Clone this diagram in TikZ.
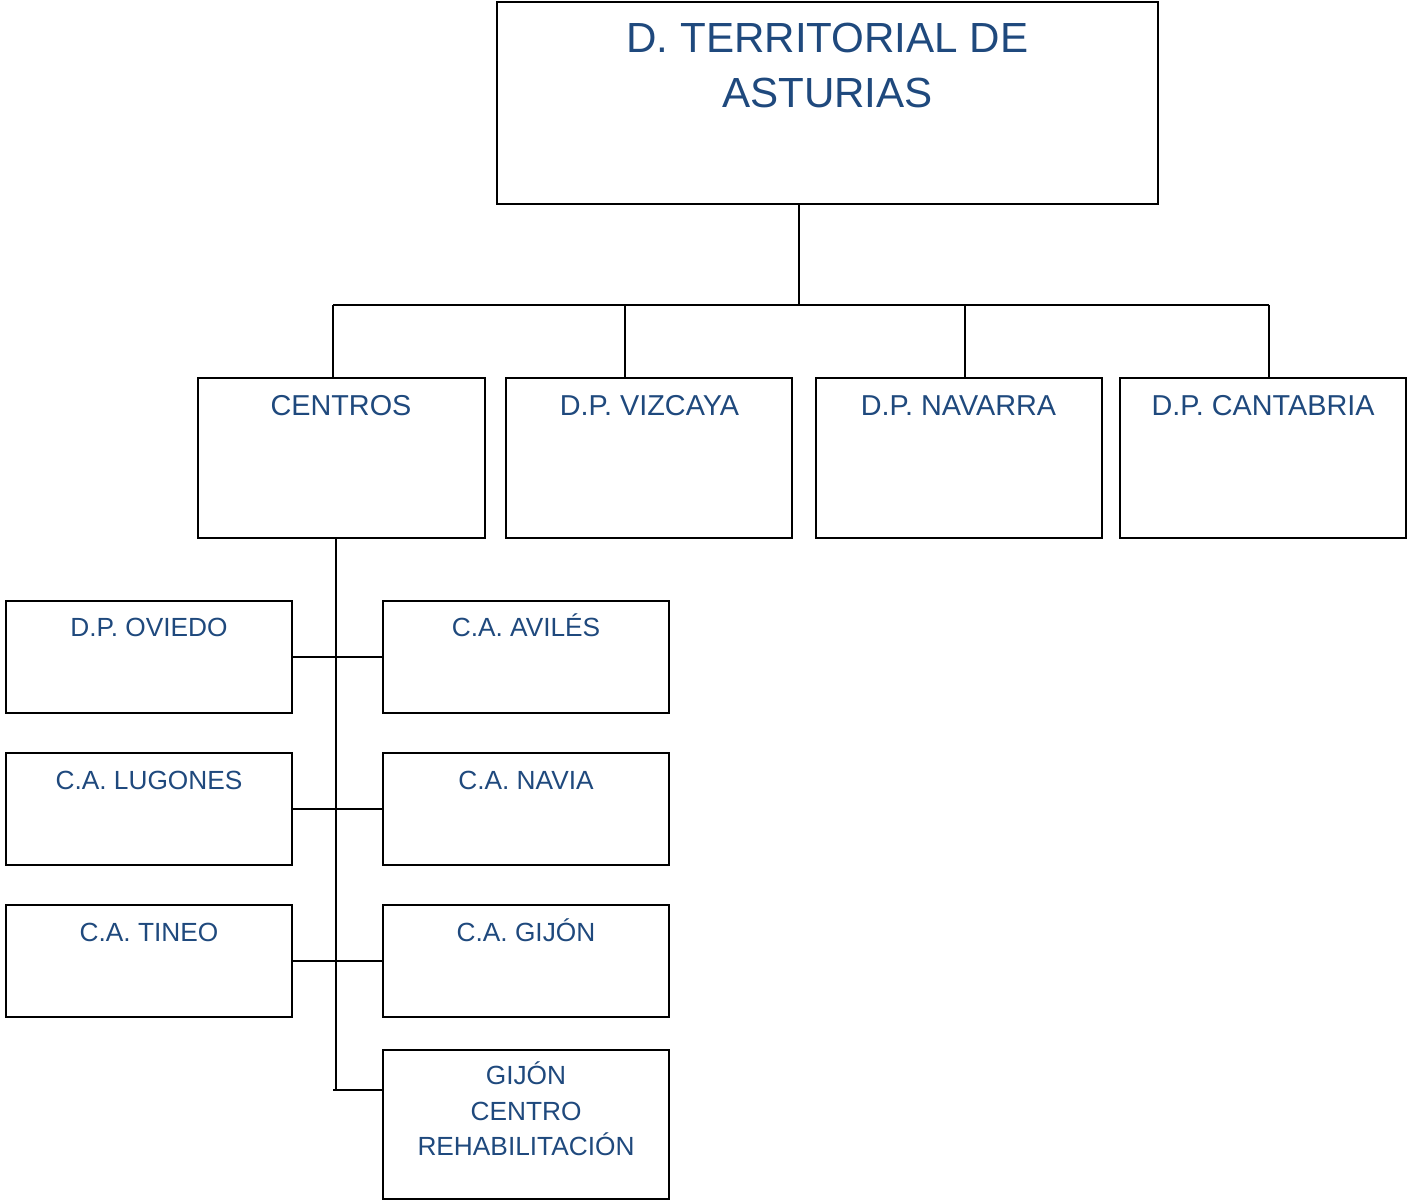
\documentclass[tikz,border=0pt]{standalone}
\usepackage{fontspec}
\setmainfont{Liberation Sans}
\usetikzlibrary{positioning}
\definecolor{orgblue}{RGB}{31,73,125}

\begin{document}
\begin{tikzpicture}[x=0.75pt,y=-0.75pt,
		box/.style={draw, rectangle, line width=1.4pt, inner sep=0pt},
		topbox/.style={box, minimum width=495.75pt, minimum height=151.5pt},
		rowbox/.style={box, minimum width=215pt, minimum height=120pt},
		unitbox/.style={box, minimum width=214.5pt, minimum height=83.5pt},
		lbl/.style={text=orgblue, anchor=base, inner sep=0pt, align=center},
		link/.style={line width=1.4pt}]
				\useasboundingbox (0,0) rectangle (1407,1201);
				
				% boxes
				\node[topbox] (dta) at (827.5,103) {};
				\node[rowbox] (centros) at (341.5,458) {};
				\node[rowbox] (vizcaya) at (649,458) {};
				\node[rowbox] (navarra) at (959,458) {};
				\node[rowbox] (cantabria) at (1263,458) {};
				\node[unitbox] (oviedo) at (149,657) {};
				\node[unitbox] (lugones) at (149,809) {};
				\node[unitbox] (tineo) at (149,961) {};
				\node[unitbox] (aviles) at (526,657) {};
				\node[unitbox] (navia) at (526,809) {};
				\node[unitbox] (gijon) at (526,961) {};
				\node[box, minimum width=214.5pt, minimum height=111.75pt] (rehab) at (526,1124.5) {};
				
				% texts (base = last line)
				\node[lbl, font=\fontsize{31.6}{41.5}\selectfont] (dtaT) at (827.5,108) {D. TERRITORIAL DE\\ASTURIAS};
				\node[lbl, font=\fontsize{21.6}{26}\selectfont] (centrosT) at (341,416) {CENTROS};
				\node[lbl, font=\fontsize{21.6}{26}\selectfont] (vizcayaT) at (649.5,416) {D.P. VIZCAYA};
				\node[lbl, font=\fontsize{21.6}{26}\selectfont] (navarraT) at (958.5,416) {D.P. NAVARRA};
				\node[lbl, font=\fontsize{21.6}{26}\selectfont] (cantabriaT) at (1263,416) {D.P. CANTABRIA};
				\node[lbl, font=\fontsize{19.7}{26.5}\selectfont] (oviedoT) at (149,636.5) {D.P. OVIEDO};
				\node[lbl, font=\fontsize{19.7}{26.5}\selectfont] (lugonesT) at (149,789.5) {C.A. LUGONES};
				\node[lbl, font=\fontsize{19.7}{26.5}\selectfont] (tineoT) at (149,941.5) {C.A. TINEO};
				\node[lbl, font=\fontsize{19.7}{26.5}\selectfont] (avilesT) at (526,636.5) {C.A. AVILÉS};
				\node[lbl, font=\fontsize{19.7}{26.5}\selectfont] (naviaT) at (526,789.5) {C.A. NAVIA};
				\node[lbl, font=\fontsize{19.7}{26.5}\selectfont] (gijonT) at (526,941.5) {C.A. GIJÓN};
				\node[lbl, font=\fontsize{19.7}{26.5}\selectfont] (rehabT) at (526,1155.5) {GIJÓN\\CENTRO\\REHABILITACIÓN};
				
				% connectors
				\coordinate (bus) at (799,305);
				\coordinate (d1) at (333,305);
				\coordinate (d2) at (625,305);
				\coordinate (d3) at (965,305);
				\coordinate (d4) at (1269,305);
				\coordinate (spine) at (336,1090);
				\coordinate (tail) at (333,1090);
				\draw[link] (dta.south -| bus) -- (bus);
				\draw[link] (d1) -- (d4);
				\draw[link] (d1) -- (d1 |- centros.north);
				\draw[link] (d2) -- (d2 |- vizcaya.north);
				\draw[link] (d3) -- (d3 |- navarra.north);
				\draw[link] (d4) -- (d4 |- cantabria.north);
				\draw[link] (centros.south -| spine) -- (spine);
				\draw[link] (oviedo.east) -- (aviles.west);
				\draw[link] (lugones.east) -- (navia.west);
				\draw[link] (tineo.east) -- (gijon.west);
				\draw[link] (tail) -- (tail -| rehab.west);
			\end{tikzpicture}
\end{document}
